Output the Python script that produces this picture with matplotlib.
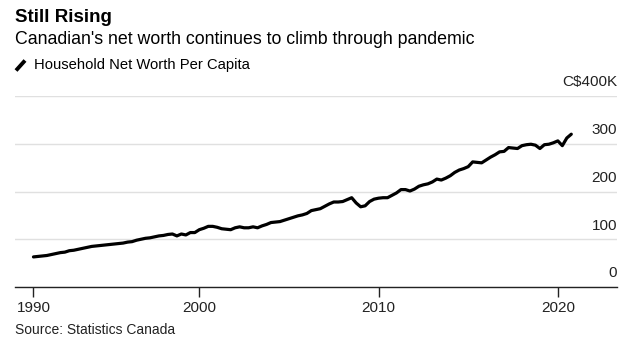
import matplotlib
matplotlib.use("Agg")
import matplotlib.pyplot as plt
import matplotlib.transforms as mtransforms
from matplotlib.lines import Line2D
import pandas as pd

plt.rcParams['font.family'] = ['Liberation Sans', 'DejaVu Sans']

# Quarterly data, 1990Q3 .. 2020Q3 (thousands of C$ per capita)
quarters = pd.period_range("1990Q3", "2020Q3", freq="Q")
net_worth = [
    63, 64, 65, 66, 68, 70, 72, 73, 76, 77, 79, 81, 83, 85, 86, 87, 88, 89, 90, 91,
    92, 94, 95, 98, 100, 102, 103, 105, 107, 108, 110, 111, 107, 111, 109, 114, 114,
    120, 123, 127, 127, 125, 122, 121, 120, 124, 126, 124, 124, 126, 124, 128, 131,
    135, 136, 137, 140, 143, 146, 149, 151, 154, 160, 162, 164, 169, 174, 178, 178,
    179, 183, 187, 176, 168, 170, 179, 184, 186, 187, 187, 192, 197, 204, 204, 201,
    205, 211, 214, 216, 220, 226, 224, 228, 233, 240, 245, 248, 252, 262, 261, 260,
    266, 272, 277, 283, 284, 292, 291, 290, 296, 298, 299, 297, 290, 298, 299, 302,
    306, 296, 312, 320,
]
x_ticks_year = [1990.75, 2000, 2010, 2020]
x_tick_labels = ["1990", "2000", "2010", "2020"]
y_ticks = [0, 100, 200, 300, 400]
y_tick_labels = ["0", "100", "200", "300", "C$400K"]

title = "Still Rising"
subtitle = "Canadian's net worth continues to climb through pandemic"
legend_label = "Household Net Worth Per Capita"
source = "Source: Statistics Canada"

x = [q.year + q.quarter / 4 for q in quarters]

W, H = 641, 345
fig = plt.figure(figsize=(W / 100, H / 100), dpi=100)
fig.patch.set_facecolor("white")

left_px, right_px, top_px, bottom_px = 15, 617, 96, 287
ax = fig.add_axes([left_px / W, 1 - bottom_px / H,
                   (right_px - left_px) / W, (bottom_px - top_px) / H])

ax.plot(x, net_worth, color="black", lw=2.3, solid_joinstyle="round",
        solid_capstyle="round", zorder=3)

ax.set_xlim(1989.72, 2023.3)
ax.set_ylim(0, 400)

for s in ["top", "right", "left"]:
    ax.spines[s].set_visible(False)
ax.spines["bottom"].set_color("#222222")
ax.spines["bottom"].set_linewidth(1.0)
ax.spines["bottom"].set_zorder(4)

ax.set_yticks(y_ticks)
ax.set_yticklabels([])
ax.tick_params(axis="y", length=0)
ax.grid(axis="y", color="#e0e0e0", lw=1.0)
ax.set_axisbelow(True)

ax.set_xticks(x_ticks_year)
ax.set_xticklabels(x_tick_labels, fontsize=11, color="#222222")
ax.tick_params(axis="x", length=7, width=1, color="#222222", pad=3)

trans = mtransforms.blended_transform_factory(ax.transAxes, ax.transData)
trans = mtransforms.offset_copy(trans, fig=fig, x=0, y=7, units="points")
for v, lab in zip(y_ticks, y_tick_labels):
    ax.text(1.0, v, lab, transform=trans, ha="right", va="baseline",
            fontsize=11, color="#222222")

fig.text(15 / W, 1 - 17 / H, title, fontsize=13.5, fontweight="bold",
         ha="left", va="center", color="black")
fig.text(15 / W, 1 - 40 / H, subtitle, fontsize=12.8,
         ha="left", va="center", color="black")
fig.add_artist(Line2D([16 / W, 25 / W], [1 - 70.5 / H, 1 - 60.5 / H],
                      color="black", lw=2.8, solid_capstyle="butt"))
fig.text(34 / W, 1 - 65.5 / H, legend_label, fontsize=10.6,
         ha="left", va="center", color="black")
fig.text(15 / W, 1 - 329.5 / H, source, fontsize=10,
         ha="left", va="center", color="#222222")

fig.savefig("out.png", dpi=100, facecolor="white")
